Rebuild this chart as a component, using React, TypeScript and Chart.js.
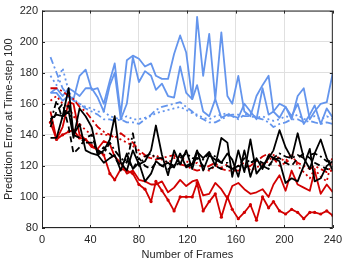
import React, { useEffect, useRef } from "react";
import { Chart, registerables } from "chart.js";

Chart.register(...registerables);

const frames = [7, 12, 17, 22, 26, 31, 36, 41, 46, 51, 56, 60, 65, 70, 75, 80, 85, 90, 94, 99, 104, 109, 114, 119, 124, 128, 133, 138, 143, 148, 153, 157, 162, 167, 172, 177, 182, 187, 191, 196, 201, 206, 211, 216, 221, 225, 230, 235, 240];

const xTicks = [0, 40, 80, 120, 160, 200, 240];
const yTicks = [80, 100, 120, 140, 160, 180, 200, 220];

const blueSolidA = [167, 167, 162, 165, 163, 178, 182, 169, 170, 160, 175, 186, 153, 188, 191, 189, 184, 186, 178, 176, 176, 192, 204, 193, 163, 216, 178, 205, 163, 206, 165, 160, 178, 155, 152, 165, 172, 178, 155, 160, 158, 150, 165, 170, 150, 155, 160, 161, 180];
const blueSolidB = [167, 170, 165, 170, 168, 165, 170, 170, 164, 155, 172, 180, 150, 160, 190, 174, 181, 178, 169, 173, 165, 164, 184, 167, 163, 172, 155, 152, 163, 151, 153, 152, 151, 160, 155, 150, 170, 153, 155, 151, 158, 152, 160, 147, 153, 159, 147, 157, 151];
const blueDashDot = [190, 180, 170, 165, 162, 160, 157, 155, 153, 150, 150, 149, 150, 148, 148, 147, 150, 153, 156, 158, 159, 160, 161, 158, 155, 152, 150, 148, 148, 150, 152, 153, 153, 152, 152, 151, 150, 148, 145, 147, 148, 150, 150, 148, 149, 148, 147, 148, 147];
const blueDotted = [178, 172, 183, 168, 163, 160, 158, 157, 155, 155, 152, 151, 150, 152, 150, 150, 151, 152, 154, 155, 156, 157, 158, 156, 154, 153, 151, 150, 152, 153, 154, 152, 150, 153, 154, 151, 152, 150, 149, 150, 152, 151, 153, 150, 151, 152, 150, 152, 150];

const redMarked = [148, 137, 140, 142, 143, 138, 137, 133, 130, 127, 115, 111, 118, 117, 115, 108, 105, 97, 110, 104, 98, 91, 100, 100, 100, 109, 91, 97, 102, 87, 100, 92, 86, 90, 95, 85, 100, 93, 97, 91, 89, 92, 90, 86, 90, 90, 89, 91, 88];
const redSolid = [155, 137, 145, 161, 160, 140, 137, 132, 131, 136, 134, 126, 122, 115, 117, 111, 110, 108, 108, 110, 103, 106, 111, 107, 110, 111, 101, 102, 109, 105, 99, 107, 109, 105, 102, 103, 105, 100, 108, 114, 104, 117, 108, 106, 104, 117, 102, 108, 103];
const redDashDot = [170, 170, 168, 165, 163, 158, 155, 150, 145, 142, 140, 138, 141, 138, 135, 130, 127, 125, 124, 125, 126, 127, 121, 120, 118, 117, 118, 120, 122, 118, 117, 117, 117, 118, 120, 123, 126, 128, 125, 120, 122, 125, 122, 120, 118, 120, 118, 116, 117];
const redDotted = [162, 165, 160, 158, 152, 147, 143, 140, 141, 140, 140, 139, 137, 135, 133, 128, 126, 125, 127, 124, 122, 125, 126, 123, 121, 122, 118, 117, 120, 119, 121, 118, 120, 122, 117, 119, 121, 123, 127, 125, 123, 128, 120, 116, 112, 118, 113, 110, 127];

const blackSolidA = [138, 138, 152, 155, 138, 157, 152, 145, 127, 130, 137, 152, 122, 117, 130, 121, 123, 130, 146, 127, 114, 130, 121, 130, 118, 129, 125, 129, 120, 138, 135, 113, 130, 116, 137, 115, 120, 125, 130, 143, 132, 125, 141, 125, 118, 128, 137, 125, 117];
const blackSolidB = [150, 153, 152, 170, 140, 147, 130, 128, 127, 122, 125, 127, 117, 128, 118, 122, 110, 115, 123, 120, 122, 119, 128, 119, 121, 130, 117, 127, 124, 122, 128, 124, 113, 130, 113, 125, 118, 127, 125, 123, 109, 112, 110, 120, 131, 110, 112, 120, 123];
const blackDashDot = [148, 162, 150, 160, 140, 138, 135, 135, 130, 128, 135, 130, 125, 122, 141, 120, 126, 128, 125, 125, 122, 120, 125, 128, 125, 125, 124, 128, 126, 122, 122, 118, 120, 125, 122, 124, 120, 118, 125, 128, 126, 125, 127, 125, 127, 128, 126, 123, 123];
const blackDashed = [145, 155, 160, 145, 128, 132, 138, 140, 128, 132, 128, 125, 120, 125, 118, 125, 120, 118, 122, 120, 118, 120, 122, 120, 122, 125, 120, 118, 120, 118, 120, 118, 120, 118, 122, 124, 122, 120, 124, 125, 122, 120, 125, 128, 125, 122, 120, 118, 117];

const BLUE = "#6495ed";
const RED = "#d20000";
const BLACK = "#000000";
const DASH = [6, 4];
const DASHDOT = [7, 3, 2, 3];
const DOT = [2, 3];

const boxPlugin = {
  id: "matlabBox",
  afterDatasetsDraw(chart: any) {
    const { ctx, chartArea } = chart;
    const { left, top, right, bottom } = chartArea;
    const xs = chart.scales.x;
    const ys = chart.scales.y;
    ctx.save();
    ctx.strokeStyle = "#262626";
    ctx.lineWidth = 1;
    ctx.strokeRect(left + 0.5, top + 0.5, right - left - 1, bottom - top - 1);
    ctx.beginPath();
    for (const v of xTicks) {
      const px = Math.round(xs.getPixelForValue(v)) + 0.5;
      ctx.moveTo(px, bottom);
      ctx.lineTo(px, bottom - 3);
      ctx.moveTo(px, top);
      ctx.lineTo(px, top + 3);
    }
    for (const v of yTicks) {
      const py = Math.round(ys.getPixelForValue(v)) + 0.5;
      ctx.moveTo(left, py);
      ctx.lineTo(left + 3, py);
      ctx.moveTo(right, py);
      ctx.lineTo(right - 3, py);
    }
    ctx.stroke();
    ctx.restore();
  },
};

function ds(values: number[], color: string, dash: number[], order: number, marker = false) {
  return {
    data: values.map((v, i) => ({ x: frames[i], y: v })),
    borderColor: color,
    backgroundColor: color,
    borderWidth: 1.8,
    borderDash: dash,
    pointRadius: marker ? 1.6 : 0,
    pointBorderWidth: 0,
    tension: 0,
    borderJoinStyle: "round" as const,
    fill: false,
    order,
  };
}

export default function App() {
  const ref = useRef<HTMLCanvasElement | null>(null);
  useEffect(() => {
    if (!ref.current) return;
    const font = { family: "'Liberation Sans', Arial, sans-serif", size: 11 };
    const chart = new Chart(ref.current, {
      type: "line",
      data: {
        datasets: [
          ds(blackSolidA, BLACK, [], 1),
          ds(blackSolidB, BLACK, [], 2),
          ds(blackDashDot, BLACK, DASHDOT, 3),
          ds(blackDashed, BLACK, DASH, 4),
          ds(redMarked, RED, [], 5, true),
          ds(redSolid, RED, [], 6),
          ds(redDashDot, RED, DASHDOT, 7),
          ds(redDotted, RED, DOT, 8),
          ds(blueSolidA, BLUE, [], 9),
          ds(blueSolidB, BLUE, [], 10),
          ds(blueDashDot, BLUE, DASHDOT, 11),
          ds(blueDotted, BLUE, DOT, 12),
        ] as any,
      },
      options: {
        animation: false,
        responsive: false,
        maintainAspectRatio: false,
        layout: { padding: { left: 0, top: 7, right: 11, bottom: 0 } },
        plugins: { legend: { display: false }, tooltip: { enabled: false } },
        scales: {
          x: {
            type: "linear",
            min: 0,
            max: 240,
            afterBuildTicks: (s: any) => {
              s.ticks = xTicks.map((v) => ({ value: v }));
            },
            afterFit: (s: any) => {
              s.height = 35;
            },
            ticks: { color: "#262626", font, padding: 5, maxRotation: 0, autoSkip: false },
            grid: { color: "#e0e0e0", drawTicks: false, lineWidth: 1 },
            border: { display: false },
            title: { display: true, text: "Number of Frames", color: "#262626", font, padding: { top: 0, bottom: 1 } },
          },
          y: {
            type: "linear",
            min: 80,
            max: 220,
            afterBuildTicks: (s: any) => {
              s.ticks = yTicks.map((v) => ({ value: v }));
            },
            afterFit: (s: any) => {
              s.width = 42;
            },
            ticks: { color: "#262626", font, padding: 4, autoSkip: false },
            grid: { color: "#e0e0e0", drawTicks: false, lineWidth: 1 },
            border: { display: false },
            title: { display: true, text: "Prediction Error at Time-step 100", color: "#262626", font, padding: { top: 2, bottom: 0 } },
          },
        },
      },
      plugins: [boxPlugin],
    });
    return () => chart.destroy();
  }, []);
  return (
    <div style={{ position: "absolute", left: 0, top: 0, width: 347, height: 263, background: "#fff" }}>
      <canvas ref={ref} width={347} height={263} style={{ width: 347, height: 263, display: "block" }} />
    </div>
  );
}
